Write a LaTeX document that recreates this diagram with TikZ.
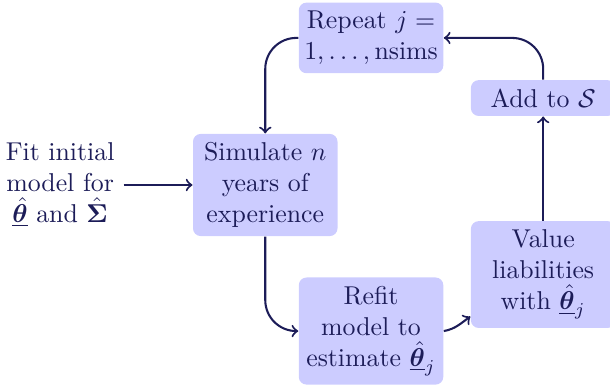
\documentclass[tikz,border=0pt]{standalone}
\usepackage{amsmath}
\usepackage{bm}
\usetikzlibrary{arrows,positioning}
\definecolor{navy}{RGB}{28,28,88}
\definecolor{boxfill}{RGB}{204,204,255}
\tikzset{%
  >=to,
  % Specifications for style of nodes:
        base/.style = {rectangle, rounded corners=3pt, fill=boxfill,
                       inner xsep=1.5pt, inner ysep=3.3pt,
                       text width=53pt, align=center, font=\normalfont},
    stepbox/.style = {base},
   plainbox/.style = {rectangle, align=center, font=\normalfont},
       flow/.style = {->, thick, draw=navy, rounded corners=12pt},
}

\begin{document}
\begin{tikzpicture}[node distance=1.5cm, on grid,
    every node/.style={text=navy}, align=center]

\useasboundingbox (0,0) rectangle (236.4pt,149.6pt);

\node (fit)      [plainbox] at (23.3pt,77.9pt)
                 {Fit initial\\ model for\\ $\underline{\hat{\bm{\theta}}}$ and $\hat{\bm{\Sigma}}$};

\node (sim)      [stepbox, right=79.5pt of fit]
                 {Simulate $n$\\ years of\\ experience};

\node (repeat)   [stepbox, above right=57pt and 41pt of sim]
                 {Repeat $j =$\\ $1, \ldots, \text{nsims}$};

\node (refit)    [stepbox, below right=56.6pt and 41pt of sim]
                 {Refit\\ model to\\ estimate $\underline{\hat{\bm{\theta}}}_j$};

\node (value)    [stepbox, above right=21.9pt and 66.7pt of refit]
                 {Value\\ liabilities\\ with $\underline{\hat{\bm{\theta}}}_j$};

\node (add)      [stepbox, above=68.4pt of value]
                 {Add to $\mathcal{S}$};

\draw[flow]             (fit) -- (sim);
\draw[flow]             (repeat.west) -| (sim.north);
\draw[flow]             (sim.south) |- (refit.west);
\draw[flow]             (refit.east) to[out=10, in=215] (value.210);
\draw[flow]             (value) -- (add);
\draw[flow]             (add.north) |- (repeat.east);
\end{tikzpicture}
\end{document}
